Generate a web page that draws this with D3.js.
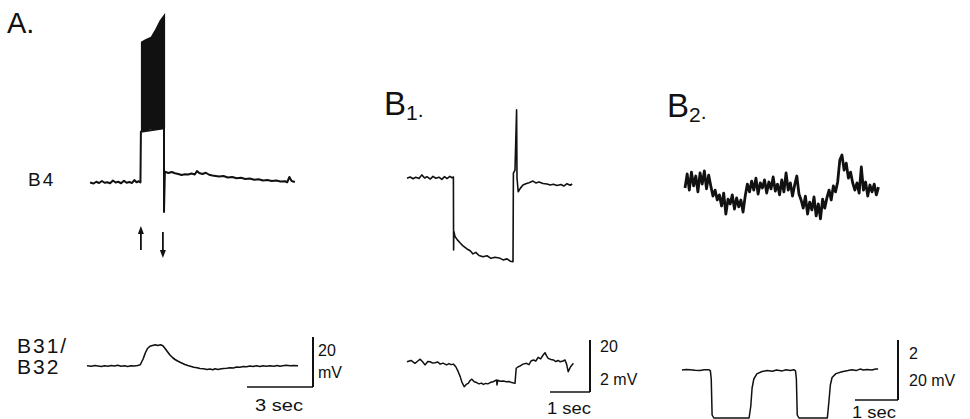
<!DOCTYPE html>
<html>
<head>
<meta charset="utf-8">
<script src="https://cdn.jsdelivr.net/npm/d3@7"></script>
<style>
  body { margin: 0; background: #fff; }
  text { font-family: "Liberation Sans", Arial, sans-serif; fill: #111; }
  .trace { fill: none; stroke: #111; stroke-linejoin: round; }
  .bar { stroke: #111; fill: none; }
</style>
</head>
<body>
<svg class="figure" width="970" height="419"></svg>
<script>
// ---- panel A : B4 and B31/B32 (time in s, voltage in mV re. rest) ----
var aB4 = [
  [0.14,0.2],[0.3,-0.2],[0.42,0.5],[0.55,0.0],[0.68,0.8],[0.8,0.1],[0.92,0.3],[1.05,-0.1],
  [1.18,1.0],[1.3,0.2],[1.42,0.5],[1.55,-0.1],[1.68,0.9],[1.8,0.1],[1.92,0.4],[2.05,0.0],
  [2.15,1.2],[2.25,0.3],[2.35,0.7],[2.43,0.2],
  [2.45,20.5],[3.5,21.9],[3.5,-11.6],[3.54,4.5],
  [3.7,4.0],[3.85,4.4],[4.0,3.9],[4.15,3.6],[4.3,3.2],[4.45,3.5],[4.6,3.4],[4.75,3.8],
  [4.9,3.4],[5.0,4.8],[5.1,4.0],[5.25,3.6],[5.4,4.1],[5.55,3.3],[5.7,3.0],[5.85,2.8],
  [6.0,2.6],[6.2,2.8],[6.4,2.2],[6.6,2.4],[6.8,1.9],[7.0,2.1],[7.2,1.6],[7.4,1.8],
  [7.6,1.3],[7.8,1.5],[8.0,1.0],[8.2,1.2],[8.4,0.8],[8.6,1.0],[8.8,0.6],[9.0,0.7],
  [9.1,0.3],[9.2,2.4],[9.3,0.8],[9.45,0.4]
];
var aBurstTop = [[2.45,56.5],[2.65,57.5],[2.9,58.5],[3.1,61.5],[3.3,65],[3.55,68]];
var aBurstBottom = [[2.45,20.5],[2.6,20.7],[2.8,21.5],[3.0,21.2],[3.2,21.8],[3.55,22]];
var aArrows = [{ t: 2.45, dir: "up" }, { t: 3.45, dir: "down" }];
var aB31 = [
  [0,0.1],[0.2,-0.1],[0.36,0.2],[0.5,0.0],[0.65,-0.2],[0.8,0.1],[0.95,-0.1],[1.1,0.2],
  [1.25,0.0],[1.4,0.3],[1.55,-0.1],[1.7,0.1],[1.85,-0.2],[2.0,0.1],[2.15,0.0],[2.3,0.2],
  [2.42,0.5],[2.55,2.8],[2.65,5.2],[2.75,7.0],[2.86,7.9],[2.98,8.2],[3.1,8.5],[3.22,8.2],
  [3.34,8.5],[3.45,8.1],[3.55,7.0],[3.65,5.8],[3.77,4.4],[3.9,3.3],[4.0,2.6],[4.12,2.0],
  [4.23,1.5],[4.35,1.0],[4.45,0.6],[4.58,0.2],[4.7,-0.1],[4.85,-0.5],[5.0,-0.7],[5.14,-1.0],
  [5.3,-1.1],[5.45,-1.4],[5.59,-1.2],[5.72,-1.5],[5.82,-1.1],[5.95,-1.4],[6.05,-1.2],[6.2,-1.0],
  [6.35,-0.9],[6.5,-0.7],[6.65,-0.8],[6.8,-0.4],[6.95,-0.5],[7.1,-0.2],[7.25,-0.3],[7.41,0.0],
  [7.55,-0.2],[7.7,0.1],[7.86,-0.2],[8.0,0.1],[8.15,-0.1],[8.32,0.1],[8.5,-0.1],[8.65,0.2],
  [8.77,-0.1],[8.9,0.1],[9.05,0.3],[9.23,0.1],[9.4,0.2],[9.59,0.1]
];

// ---- panel B1 ----
var b1Top = [
  [0.0,-0.1],[0.08,0.4],[0.15,-0.3],[0.22,0.3],[0.3,-0.2],[0.37,1.2],[0.44,0.0],[0.5,0.5],
  [0.58,-0.4],[0.65,0.6],[0.72,-0.1],[0.8,0.3],[0.87,-0.5],[0.94,0.5],[1.0,-0.2],[1.07,0.6],
  [1.12,0.1],[1.16,0.4],
  [1.165,-27.7],[1.17,-20.5],[1.2,-22.5],[1.26,-23.8],[1.33,-25],[1.4,-26.1],[1.5,-27.3],
  [1.58,-28],[1.65,-29.2],[1.72,-28.6],[1.8,-29.8],[1.9,-30.3],[2.0,-29.9],[2.1,-30.9],
  [2.2,-30.5],[2.33,-30.9],[2.4,-31.5],[2.5,-31.1],[2.58,-32.0],[2.65,-32.2],
  [2.66,1.9],[2.7,3.0],[2.74,26.2],[2.75,0.0],[2.78,-5.3],[2.84,-3.8],[2.9,-2.7],[2.97,-2.2],
  [3.05,-1.8],[3.15,-1.2],[3.22,-1.9],[3.3,-1.5],[3.4,-2.1],[3.5,-2.3],[3.58,-2.7],[3.66,-2.4],
  [3.75,-2.9],[3.85,-2.5],[3.92,-3.1],[4.0,-2.2],[4.08,-2.8],[4.13,-2.3]
];
var b1Bottom = [
  [0,-0.03],[0.1,0.02],[0.2,-0.09],[0.27,0.0],[0.33,0.07],[0.4,-0.05],[0.45,-0.15],[0.52,-0.02],
  [0.58,-0.03],[0.64,-0.08],[0.7,-0.07],[0.77,-0.04],[0.83,-0.12],[0.9,-0.08],[0.99,-0.15],
  [1.05,-0.1],[1.1,-0.14],[1.16,-0.12],[1.22,-0.22],[1.28,-0.41],[1.33,-0.6],[1.37,-0.8],
  [1.43,-0.99],[1.48,-0.9],[1.53,-0.86],[1.58,-0.75],[1.62,-0.7],[1.68,-0.8],[1.74,-0.83],
  [1.8,-0.88],[1.86,-0.85],[1.91,-0.9],[1.97,-0.86],[2.02,-0.88],[2.08,-0.83],[2.15,-0.8],
  [2.2,-0.76],[2.24,-0.73],[2.25,-0.92],[2.27,-0.74],[2.33,-0.78],[2.41,-0.77],[2.48,-0.8],
  [2.55,-0.79],[2.62,-0.83],[2.7,-0.86],[2.73,-0.28],[2.78,-0.22],[2.83,-0.19],[2.9,-0.12],
  [2.99,-0.09],[3.05,-0.14],[3.1,0.0],[3.16,0.04],[3.22,0.0],[3.28,0.14],[3.34,0.08],
  [3.4,0.22],[3.45,0.32],[3.49,0.2],[3.53,0.1],[3.6,0.06],[3.66,0.04],[3.72,-0.02],
  [3.78,0.02],[3.83,-0.03],[3.9,0.0],[3.95,0.04],[3.99,-0.12],[4.03,-0.41],[4.09,-0.22],[4.16,-0.09]
];

// ---- panel B2 ----
var b2TopStart = 0.07, b2TopStep = 0.05;
var b2Top = [
  -0.1,0.37,-0.17,0.43,-0.03,0.3,-0.23,0.4,0.03,0.47,-0.13,0.33,
  -0.03,-0.37,-0.17,-0.5,
  -0.33,-0.7,-0.27,-0.97,-0.47,-0.63,-0.33,-0.8,-0.43,-0.73,-0.5,-0.9,
  -0.37,0.03,
  -0.23,0.13,-0.17,0.23,-0.3,0.07,-0.1,0.17,-0.27,0.1,-0.13,0.27,-0.2,0.03,-0.33,
  0.17,-0.23,0.4,-0.17,0.07,-0.37,0,0.3,-0.3,
  -0.5,-0.77,-0.37,-0.97,-0.57,-0.83,-0.4,-1.03,-0.63,-1.13,-0.47,-0.77,
  -0.43,-0.17,-0.5,-0.03,-0.23,0.1,
  0.83,1.0,
  0.5,0.73,0.23,0.43,0.07,
  -0.17,0.07,-0.27,
  0.6,
  -0.17,0.1,-0.37,0,-0.23,0.03,-0.33,-0.07
];
var b2Bottom = [
  [0,0],[0.1,0.2],[0.19,0.1],[0.3,-0.1],[0.42,-0.2],[0.52,0.1],[0.63,0.1],[0.66,-0.3],
  [0.68,-3],[0.7,-15],[0.74,-16],[1.0,-16],[1.3,-16],[1.56,-16],[1.6,-12],[1.63,-6],
  [1.67,-3],[1.74,-1.3],[1.86,-0.5],[1.98,-0.2],[2.1,-0.4],[2.2,0.0],[2.33,-0.3],[2.42,0.1],
  [2.52,-0.2],[2.6,0.1],[2.64,-0.3],[2.66,-3],[2.68,-15],[2.72,-16],[3.0,-16],[3.38,-16],
  [3.42,-10],[3.45,-5],[3.49,-2.5],[3.58,-1.2],[3.72,-0.6],[3.86,-0.2],[3.95,0.1],[4.05,-0.2],
  [4.14,0.3],[4.22,0.0],[4.3,0.2],[4.42,0.0],[4.5,0.3],[4.56,0.3]
];

var svg = d3.select(".figure");

function trace(data, xs, ys, w) {
  svg.append("path")
    .attr("class", "trace")
    .attr("stroke-width", w)
    .attr("d", d3.line().x(function(d) { return xs(d[0]); }).y(function(d) { return ys(d[1]); })(data));
}

// scale bar: corner at (cx, cy), horizontal to the left, vertical upwards
function scaleBar(cx, cy, xs, sec, ys, mv) {
  var w = xs(sec) - xs(0), h = ys(0) - ys(mv);
  svg.append("path").attr("class", "bar").attr("stroke-width", 1.6)
    .attr("d", "M" + (cx - w) + "," + cy + "H" + cx);
  svg.append("path").attr("class", "bar").attr("stroke-width", 2)
    .attr("d", "M" + cx + "," + cy + "V" + (cy - h));
}

function label(x, y, size, str) {
  return svg.append("text").attr("x", x).attr("y", y).attr("font-size", size).text(str);
}

// ---------- A ----------
var xA = d3.scaleLinear().domain([0, 10]).range([87, 307]);
var yA4 = d3.scaleLinear().domain([0, 20]).range([183, 133]);
var yA31 = d3.scaleLinear().domain([0, 20]).range([366, 316]);

svg.append("path")
  .attr("fill", "#111")
  .attr("d", d3.area()
    .x(function(d, i) { return xA(d[0]); })
    .y0(function(d, i) { return yA4(aBurstBottom[i][1]); })
    .y1(function(d) { return yA4(d[1]); })(aBurstTop));
trace(aB4, xA, yA4, 2);
trace(aB31, xA, yA31, 1.6);

aArrows.forEach(function(a) {
  var x = xA(a.t);
  var tip = a.dir === "up" ? 226 : 258, tail = a.dir === "up" ? 250 : 232;
  var s = a.dir === "up" ? 1 : -1;
  svg.append("path").attr("class", "bar").attr("stroke-width", 1.8)
    .attr("d", "M" + x + "," + tail + "V" + (tip + s * 5));
  svg.append("path").attr("fill", "#111")
    .attr("d", "M" + (x - 3) + "," + (tip + s * 8) + "L" + x + "," + tip + "L" + (x + 3) + "," + (tip + s * 8) + "Z");
});

scaleBar(313, 387, xA, 3, yA31, 20);

label(7, 33, 29, "A.");
label(28, 186, 19, "B4").attr("letter-spacing", 2);
label(17, 353, 21, "B31/").attr("letter-spacing", 2);
label(17, 374, 21, "B32").attr("letter-spacing", 2);
label(318, 356, 16, "20");
label(318, 378, 16, "mV");
label(255, 411, 16, "3 sec").attr("textLength", 48).attr("lengthAdjust", "spacingAndGlyphs");

// ---------- B1 ----------
var xB1 = d3.scaleLinear().domain([0, 5]).range([407, 607]);
var yB1top = d3.scaleLinear().domain([0, 20]).range([178, 126]);
var yB1bot = d3.scaleLinear().domain([0, 2]).range([361, 309]);

trace(b1Top, xB1, yB1top, 1.6);
trace(b1Bottom, xB1, yB1bot, 1.5);
scaleBar(590, 392, xB1, 1, yB1bot, 2);

var t1 = label(384, 115, 33, "B");
t1.append("tspan").attr("font-size", 21).attr("dy", 5).text("1");
t1.append("tspan").attr("font-size", 21).attr("dy", -3).text(".");
label(600, 352, 16, "20");
label(600, 385, 16, "2 mV");
label(547, 414, 16, "1 sec").attr("textLength", 44).attr("lengthAdjust", "spacingAndGlyphs");

// ---------- B2 ----------
var xB2 = d3.scaleLinear().domain([0, 5]).range([682, 897]);
var yB2top = d3.scaleLinear().domain([0, 1]).range([185, 155]);
var yB2bot = d3.scaleLinear().domain([0, 20]).range([370, 310]);

var b2TopPts = b2Top.map(function(v, i) { return [b2TopStart + i * b2TopStep, v]; });
trace(b2TopPts, xB2, yB2top, 2.8);
trace(b2Bottom, xB2, yB2bot, 1.5);
scaleBar(898, 400, xB2, 1, yB2bot, 20);

var t2 = label(667, 117, 33, "B");
t2.append("tspan").attr("font-size", 21).attr("dy", 5).text("2");
t2.append("tspan").attr("font-size", 21).attr("dy", -3).text(".");
label(909, 359, 16, "2");
label(909, 386, 16, "20 mV");
label(852, 418, 16, "1 sec").attr("textLength", 44).attr("lengthAdjust", "spacingAndGlyphs");
</script>
</body>
</html>
